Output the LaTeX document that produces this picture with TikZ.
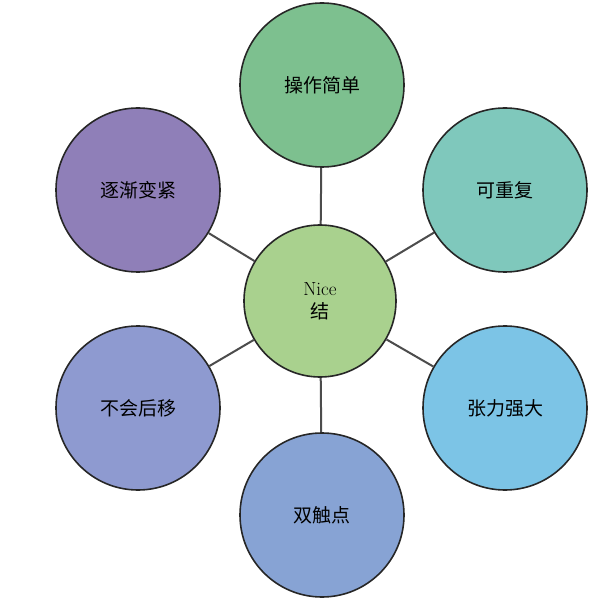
\documentclass[tikz,border=0pt]{standalone}
\usepackage{fontspec}
\newfontfamily\cjk{Noto Sans CJK SC}
\definecolor{cg}{HTML}{A9D18E}
\definecolor{c1}{HTML}{7DC08F}
\definecolor{c2}{HTML}{7FC8BC}
\definecolor{c3}{HTML}{7CC4E6}
\definecolor{c4}{HTML}{87A3D4}
\definecolor{c5}{HTML}{8E9AD0}
\definecolor{c6}{HTML}{8F7FB8}
\begin{document}
\begin{tikzpicture}[x=1pt,y=-1pt,
  bub/.style={circle,draw=black!85,line width=1.6pt,minimum size=164pt,inner sep=0pt,font=\fontsize{19}{23}\selectfont\cjk},
  link/.style={draw=black!70,line width=2pt}]
\useasboundingbox (0,0) rectangle (610,601);
\node[bub,fill=cg,minimum size=152pt,align=center] (c) at (320,301) {{\rmfamily Nice}\\结};
\node[bub,fill=c1] (t) at (322,85) {操作简单};
\node[bub,fill=c2] (tr) at (505,190) {可重复};
\node[bub,fill=c3] (br) at (505,408) {张力强大};
\node[bub,fill=c4] (b) at (322,515) {双触点};
\node[bub,fill=c5] (bl) at (138,408) {不会后移};
\node[bub,fill=c6] (tl) at (138,190) {逐渐变紧};
\foreach \n in {t,tr,br,b,bl,tl} \draw[link] (c) -- (\n);
\end{tikzpicture}
\end{document}
